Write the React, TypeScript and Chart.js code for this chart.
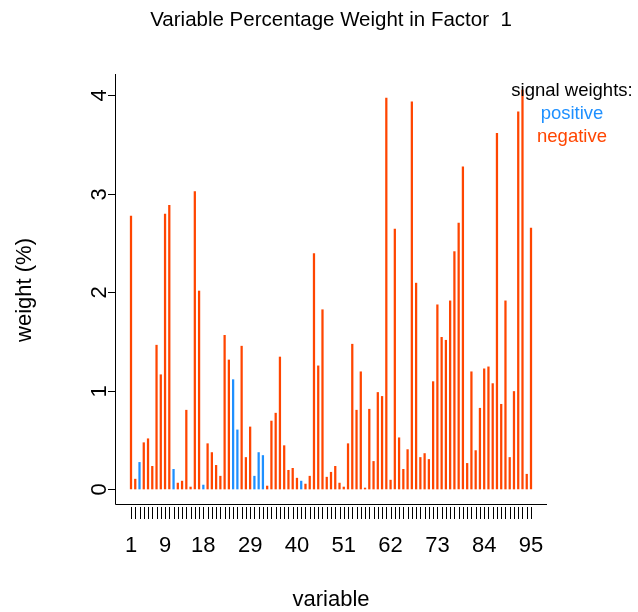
import React, { useEffect, useRef } from "react";
import { Chart, registerables } from "chart.js";

Chart.register(...registerables);

const variables: number[] = Array.from({ length: 95 }, (_, i) => i + 1);

const weights: number[] = [
  2.77, 0.10, 0.27, 0.47, 0.51, 0.23, 1.46, 1.16, 2.79, 2.88,
  0.20, 0.06, 0.08, 0.80, 0.02, 3.02, 2.01, 0.04, 0.46, 0.37,
  0.24, 0.13, 1.56, 1.31, 1.11, 0.60, 1.45, 0.32, 0.63, 0.13,
  0.37, 0.34, 0.03, 0.69, 0.77, 1.34, 0.44, 0.19, 0.21, 0.11,
  0.08, 0.05, 0.13, 2.39, 1.25, 1.82, 0.12, 0.17, 0.23, 0.06,
  0.02, 0.46, 1.47, 0.80, 1.19, 0.01, 0.81, 0.28, 0.98, 0.94,
  3.97, 0.09, 2.64, 0.52, 0.20, 0.40, 3.93, 2.09, 0.32, 0.36,
  0.30, 1.09, 1.87, 1.54, 1.51, 1.91, 2.41, 2.70, 3.27, 0.26,
  1.19, 0.39, 0.82, 1.22, 1.24, 1.07, 3.61, 0.86, 1.91, 0.32,
  0.99, 3.83, 4.05, 0.15, 2.65,
];

const positiveVariables: number[] = [3, 11, 18, 25, 26, 30, 31, 32, 41];

const xTickLabels: number[] = [1, 9, 18, 29, 40, 51, 62, 73, 84, 95];
const yTicks: number[] = [0, 1, 2, 3, 4];

const titleText = "Variable Percentage Weight in Factor  1";
const xTitle = "variable";
const yTitle = "weight (%)";
const legendTitle = "signal weights:";
const legendLabels = ["positive", "negative"];

const POS_COLOR = "#1E90FF";
const NEG_COLOR = "#FF4500";
const FONT = "'Liberation Sans', Arial, Helvetica, sans-serif";

const axesPlugin = {
  id: "rStyleAxes",
  afterDraw(chart: any) {
    const { ctx, chartArea, scales } = chart;
    const xs = scales.x;
    const ys = scales.y;
    ctx.save();
    ctx.strokeStyle = "#000";
    ctx.lineWidth = 1;
    // L-shaped box
    ctx.beginPath();
    ctx.moveTo(115.5, chartArea.top);
    ctx.lineTo(115.5, 504.5);
    ctx.lineTo(chartArea.right, 504.5);
    ctx.stroke();

    // y ticks
    ctx.fillStyle = "#000";
    ctx.font = `22px ${FONT}`;
    ctx.textAlign = "center";
    ctx.textBaseline = "middle";
    for (const v of yTicks) {
      const y = Math.round(ys.getPixelForValue(v)) + 0.5;
      ctx.beginPath();
      ctx.moveTo(115, y);
      ctx.lineTo(108, y);
      ctx.stroke();
      ctx.save();
      ctx.translate(100, y);
      ctx.rotate(-Math.PI / 2);
      ctx.fillText(String(v), 0, 0);
      ctx.restore();
    }

    // x ticks
    for (const v of variables) {
      const x = Math.round(xs.getPixelForValue(v)) + 0.5;
      ctx.beginPath();
      ctx.moveTo(x, 507);
      ctx.lineTo(x, 519);
      ctx.stroke();
    }
    for (const v of xTickLabels) {
      const x = xs.getPixelForValue(v);
      ctx.fillText(String(v), x, 546);
    }

    // axis titles
    ctx.fillText(xTitle, 331, 600);
    ctx.save();
    ctx.translate(25, 290);
    ctx.rotate(-Math.PI / 2);
    ctx.fillText(yTitle, 0, 0);
    ctx.restore();

    // title
    ctx.font = `20.5px ${FONT}`;
    ctx.fillText(titleText, 331, 20);

    // legend
    ctx.font = `18.5px ${FONT}`;
    ctx.fillStyle = "#000";
    ctx.fillText(legendTitle, 572, 91);
    ctx.fillStyle = POS_COLOR;
    ctx.fillText(legendLabels[0], 572, 114);
    ctx.fillStyle = NEG_COLOR;
    ctx.fillText(legendLabels[1], 572, 137);
    ctx.restore();
  },
};

export default function App() {
  const canvasRef = useRef<HTMLCanvasElement | null>(null);

  useEffect(() => {
    if (!canvasRef.current) return;
    const colors = variables.map((v) =>
      positiveVariables.includes(v) ? POS_COLOR : NEG_COLOR
    );
    const chart = new Chart(canvasRef.current, {
      type: "bar",
      data: {
        datasets: [
          {
            data: variables.map((v, i) => ({ x: v, y: weights[i] })),
            backgroundColor: colors,
            borderWidth: 0,
            barThickness: 1.6,
          },
        ],
      },
      options: {
        responsive: false,
        animation: false,
        devicePixelRatio: 1,
        layout: { padding: { left: 115, top: 74, right: 91, bottom: 107 } },
        plugins: {
          legend: { display: false },
          tooltip: { enabled: false },
          title: { display: false },
        },
        scales: {
          x: { type: "linear", display: false, offset: false, min: -2.76, max: 98.76 },
          y: { type: "linear", display: false, min: -0.1624, max: 4.2132 },
        },
      },
      plugins: [axesPlugin],
    });
    return () => chart.destroy();
  }, []);

  return (
    <div style={{ position: "absolute", left: 0, top: 0, width: 638, height: 612, background: "#fff" }}>
      <canvas ref={canvasRef} width={638} height={612} />
    </div>
  );
}
